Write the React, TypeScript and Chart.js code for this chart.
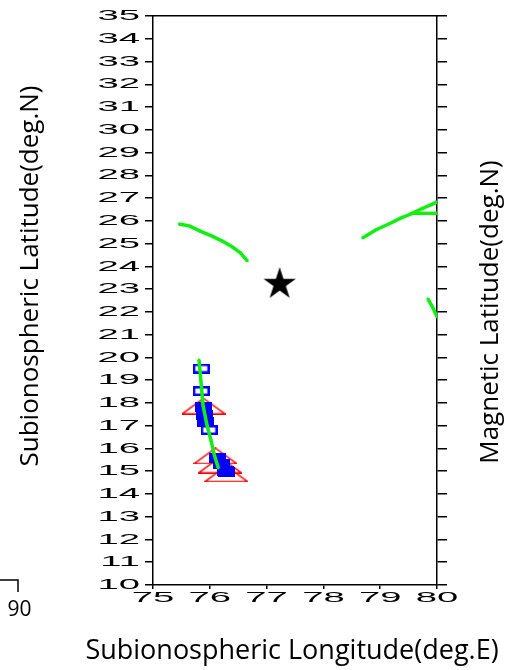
import React, { useEffect, useRef } from 'react';
import { Chart, registerables } from 'chart.js';

Chart.register(...registerables);

// ---- axes ----
const LON_MIN = 75;
const LON_MAX = 80;
const LON_STEP = 1;
const LAT_MIN = 10;
const LAT_MAX = 35;
const LAT_STEP = 1;

// ---- green ray-path traces ----
const westArcLon = [75.46, 75.65, 75.83, 76.04, 76.22, 76.4, 76.54, 76.66];
const westArcLat = [25.86, 25.77, 25.55, 25.33, 25.11, 24.85, 24.59, 24.24];
const eastArcLon = [78.69, 78.92, 79.15, 79.36, 79.54, 79.72, 79.89, 80.0];
const eastArcLat = [25.25, 25.6, 25.86, 26.12, 26.3, 26.52, 26.7, 26.83];
const eastTailLon = [79.54, 80.0];
const eastTailLat = [26.33, 26.33];
const southEastLon = [79.84, 79.93, 80.0];
const southEastLat = [22.57, 22.17, 21.78];
const trackLon = [75.81, 75.85, 75.88, 75.95, 76.02, 76.08, 76.15];
const trackLat = [19.89, 18.79, 17.91, 17.03, 16.37, 15.71, 15.14];

// ---- blue squares ----
const openSqLon = [75.85, 75.85, 75.99, 76.29];
const openSqLat = [19.51, 18.52, 16.81, 14.96];
const filledSqLon = [75.89, 75.91, 75.93, 76.13, 76.2, 76.27];
const filledSqLat = [17.8, 17.49, 17.18, 15.6, 15.32, 15.03];

// ---- red triangles ----
const triLon = [75.89, 76.1, 76.18, 76.29];
const triLat = [17.86, 15.67, 15.27, 14.88];

// ---- star (station) ----
const starLon = [77.23];
const starLat = [23.22];

// ---- texts ----
const TITLE_LEFT = 'Subionospheric Latitude(deg.N)';
const TITLE_RIGHT = 'Magnetic Latitude(deg.N)';
const TITLE_BOTTOM = 'Subionospheric Longitude(deg.E)';
const CORNER_LABEL = '90';

const TICK_STRETCH = 2.55;
const GREEN = '#11ee11';
const BLUE = '#0000ff';
const RED = '#ff0000';

function zip(xs: number[], ys: number[]) {
  return xs.map((x, i) => ({ x, y: ys[i] }));
}

function rectImage(w: number, h: number, stroke: string, fill: string, lw: number) {
  const c = document.createElement('canvas');
  c.width = w;
  c.height = h;
  const g = c.getContext('2d')!;
  g.fillStyle = fill;
  g.fillRect(0, 0, w, h);
  g.strokeStyle = stroke;
  g.lineWidth = lw;
  g.strokeRect(lw / 2, lw / 2, w - lw, h - lw);
  return c;
}

function triangleImage(w: number, h: number, stroke: string, lw: number) {
  const c = document.createElement('canvas');
  c.width = w;
  c.height = h;
  const g = c.getContext('2d')!;
  g.strokeStyle = stroke;
  g.lineWidth = lw;
  g.beginPath();
  g.moveTo(w / 2, lw / 2);
  g.lineTo(w - lw / 2, h - lw / 2);
  g.lineTo(lw / 2, h - lw / 2);
  g.closePath();
  g.stroke();
  return c;
}

function starImage(r: number, color: string) {
  const s = Math.ceil(2 * r + 2);
  const c = document.createElement('canvas');
  c.width = s;
  c.height = s;
  const g = c.getContext('2d')!;
  g.fillStyle = color;
  g.beginPath();
  for (let i = 0; i < 10; i++) {
    const a = -Math.PI / 2 + (i * Math.PI) / 5;
    const rad = i % 2 === 0 ? r : r * 0.382;
    const px = s / 2 + rad * Math.cos(a);
    const py = s / 2 + rad * Math.sin(a);
    if (i === 0) g.moveTo(px, py);
    else g.lineTo(px, py);
  }
  g.closePath();
  g.fill();
  return c;
}

function drawTitles(ctx: CanvasRenderingContext2D) {
  ctx.save();
  ctx.fillStyle = '#000';
  ctx.textAlign = 'center';
  ctx.textBaseline = 'alphabetic';
  ctx.font = '27px "Open Sans"';
  ctx.fillText(TITLE_BOTTOM, 292, 659);
  ctx.font = '26px "Open Sans"';
  ctx.save();
  ctx.translate(38, 276);
  ctx.rotate(-Math.PI / 2);
  ctx.fillText(TITLE_LEFT, 0, 0);
  ctx.restore();
  ctx.save();
  ctx.translate(498, 312);
  ctx.rotate(-Math.PI / 2);
  ctx.fillText(TITLE_RIGHT, 0, 0);
  ctx.restore();
  ctx.font = '21px "Open Sans"';
  ctx.fillText(CORNER_LABEL, 19.5, 616);
  ctx.strokeStyle = '#000';
  ctx.lineWidth = 1.5;
  ctx.beginPath();
  ctx.moveTo(0, 580);
  ctx.lineTo(18, 580);
  ctx.lineTo(18, 592);
  ctx.stroke();
  ctx.restore();
}

export default function App() {
  const ref = useRef<HTMLCanvasElement>(null);

  useEffect(() => {
    const canvas = ref.current!;
    const ctx = canvas.getContext('2d')!;
    const origFill = ctx.fillText;
    let stretch = false;
    (ctx as any).fillText = function (text: string, x: number, y: number, maxWidth?: number) {
      if (stretch) {
        ctx.save();
        ctx.translate(x, y);
        ctx.scale(TICK_STRETCH, 1);
        origFill.call(ctx, text, 0, 0);
        ctx.restore();
      } else if (maxWidth === undefined) {
        origFill.call(ctx, text, x, y);
      } else {
        origFill.call(ctx, text, x, y, maxWidth);
      }
    };

    const openSq = rectImage(17, 10, BLUE, '#ffffff', 2.5);
    const filledSq = rectImage(17, 10, BLUE, BLUE, 2);
    const tri = triangleImage(44, 17, RED, 1.5);
    const star = starImage(17, '#000000');

    const tickFont = { family: 'Liberation Sans', size: 15, weight: 'normal' as const };
    const axisGrid = (len: number) => ({
      drawOnChartArea: false,
      drawTicks: true,
      tickLength: len,
      color: '#000',
      lineWidth: 1.5,
    });
    const border = { display: true, color: '#000', width: 1.5 };

    const greenLine = (data: { x: number; y: number }[]) => ({
      data,
      showLine: true,
      borderColor: GREEN,
      borderWidth: 3.5,
      pointStyle: 'rect' as const,
      pointRadius: 1.8,
      pointBackgroundColor: GREEN,
      pointBorderWidth: 0,
      tension: 0,
      order: 0,
      xAxisID: 'x',
      yAxisID: 'y',
    });
    const markers = (data: { x: number; y: number }[], img: HTMLCanvasElement, order: number) => ({
      data,
      showLine: false,
      pointStyle: img,
      pointRadius: 6,
      order,
      xAxisID: 'x',
      yAxisID: 'y',
    });

    const stretchPlugin = {
      id: 'stretchTicks',
      beforeDraw() {
        stretch = true;
      },
      afterDraw(chart: Chart) {
        stretch = false;
        drawTitles(chart.ctx);
      },
    };

    const chart = new Chart(canvas, {
      type: 'scatter',
      data: {
        datasets: [
          markers(zip(triLon, triLat), tri, 3),
          markers(zip(filledSqLon, filledSqLat), filledSq, 2),
          markers(zip(openSqLon, openSqLat), openSq, 2),
          greenLine(zip(trackLon, trackLat)),
          greenLine(zip(westArcLon, westArcLat)),
          greenLine(zip(eastArcLon, eastArcLat)),
          greenLine(zip(eastTailLon, eastTailLat)),
          greenLine(zip(southEastLon, southEastLat)),
          markers(zip(starLon, starLat), star, 0),
        ] as any,
      },
      options: {
        responsive: false,
        animation: false,
        events: [],
        layout: { padding: 0 },
        plugins: {
          legend: { display: false },
          tooltip: { enabled: false },
        },
        scales: {
          x: {
            type: 'linear',
            position: 'bottom',
            min: LON_MIN,
            max: LON_MAX,
            ticks: { stepSize: LON_STEP, autoSkip: false, maxRotation: 0, color: '#000', font: tickFont, padding: 0 },
            grid: axisGrid(4),
            border,
            afterFit: (s: any) => {
              s.height = 85;
            },
          },
          x2: {
            type: 'linear',
            position: 'top',
            min: LON_MIN,
            max: LON_MAX,
            ticks: { display: false, stepSize: LON_STEP },
            grid: { drawOnChartArea: false, drawTicks: false },
            border,
            afterFit: (s: any) => {
              s.height = 16;
            },
          },
          y: {
            type: 'linear',
            position: 'left',
            min: LAT_MIN,
            max: LAT_MAX,
            ticks: { stepSize: LAT_STEP, autoSkip: false, color: '#000', font: tickFont, padding: 5 },
            grid: axisGrid(8),
            border,
            afterFit: (s: any) => {
              s.width = 153;
            },
          },
          y2: {
            type: 'linear',
            position: 'right',
            min: LAT_MIN,
            max: LAT_MAX,
            ticks: { display: false, stepSize: LAT_STEP, autoSkip: false },
            grid: axisGrid(10),
            border,
            afterFit: (s: any) => {
              s.width = 71;
            },
          },
        } as any,
      },
      plugins: [stretchPlugin],
    });

    return () => {
      chart.destroy();
      (ctx as any).fillText = origFill;
    };
  }, []);

  return (
    <div style={{ position: 'fixed', left: 0, top: 0, width: 508, height: 670, background: '#fff' }}>
      <canvas ref={ref} width={508} height={670} style={{ display: 'block' }} />
    </div>
  );
}
